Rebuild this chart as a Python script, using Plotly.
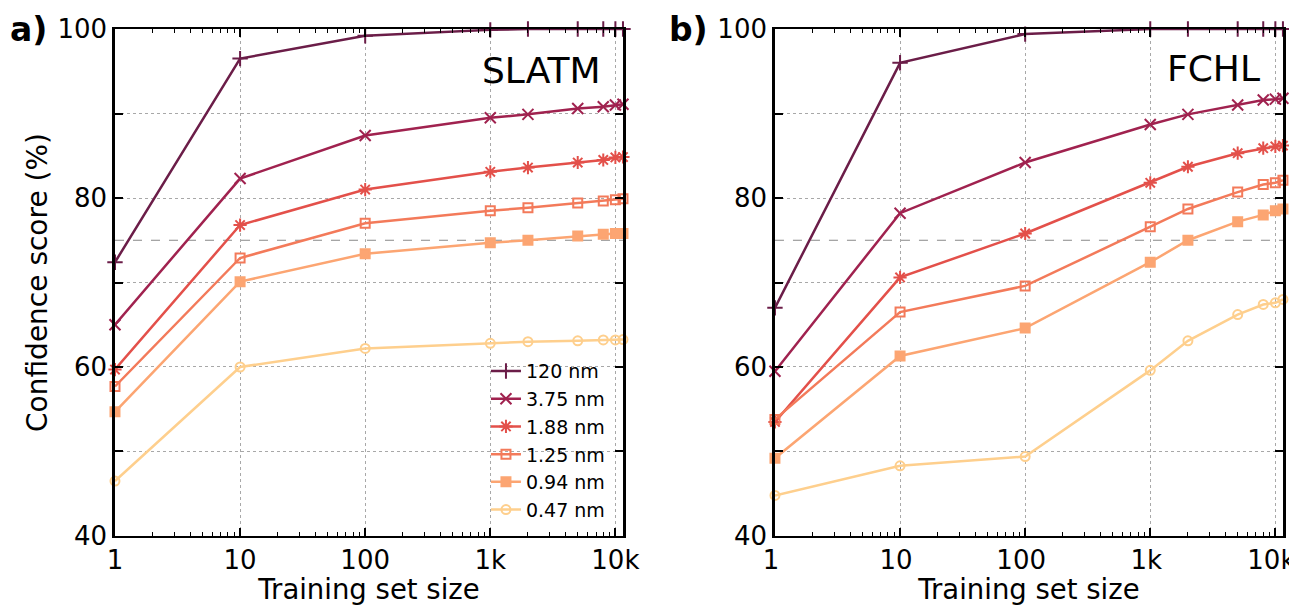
import math
import plotly.graph_objects as go

# ---------------- data ----------------
train_size = [1, 10, 100, 1000, 2000, 5000, 8000, 10000, 11500]
series_names = ["120 nm", "3.75 nm", "1.88 nm", "1.25 nm", "0.94 nm", "0.47 nm"]

slatm_120 = [72.4, 96.5, 99.2, 99.9, 100.0, 100.0, 100.0, 100.0, 100.0]
slatm_375 = [65.0, 82.3, 87.4, 89.5, 89.9, 90.6, 90.8, 91.0, 91.1]
slatm_188 = [59.7, 76.8, 81.0, 83.1, 83.6, 84.2, 84.5, 84.8, 84.85]
slatm_125 = [57.7, 72.9, 77.0, 78.5, 78.85, 79.4, 79.65, 79.8, 79.9]
slatm_094 = [54.7, 70.1, 73.4, 74.7, 75.0, 75.5, 75.7, 75.8, 75.8]
slatm_047 = [46.5, 60.0, 62.2, 62.8, 63.0, 63.1, 63.2, 63.2, 63.25]

fchl_120 = [67.0, 96.0, 99.4, 100.0, 100.0, 100.0, 100.0, 100.0, 100.0]
fchl_375 = [59.5, 78.2, 84.2, 88.7, 89.9, 91.0, 91.6, 91.7, 91.8]
fchl_188 = [53.5, 70.6, 75.8, 81.8, 83.7, 85.3, 85.9, 86.1, 86.2]
fchl_125 = [53.8, 66.5, 69.6, 76.6, 78.7, 80.7, 81.6, 81.8, 82.1]
fchl_094 = [49.2, 61.3, 64.6, 72.4, 75.0, 77.2, 78.0, 78.5, 78.7]
fchl_047 = [44.8, 48.3, 49.4, 59.6, 63.1, 66.2, 67.4, 67.6, 68.0]

slatm = [slatm_120, slatm_375, slatm_188, slatm_125, slatm_094, slatm_047]
fchl = [fchl_120, fchl_375, fchl_188, fchl_125, fchl_094, fchl_047]

x_tickvals = [1, 10, 100, 1000, 10000]
x_ticktext = ["1", "10", "100", "1k", "10k"]
y_tickvals = [40, 50, 60, 70, 80, 90, 100]
y_ticktext = ["40", "", "60", "", "80", "", "100"]
threshold = 75

# ---------------- style ----------------
colors = ["#6b1d48", "#a0224f", "#e3504a", "#f37a5a", "#fca572", "#fecf8d"]
symbols = ["cross-thin-open", "x-thin-open", "asterisk-open", "square-open", "square", "circle-open"]
msizes = [11, 11, 11, 9, 9, 9]
FONT = "DejaVu Sans"

# page has an 8 px body margin; figure is sized so it ends at the window edge
W, H = 1289, 597

fig = go.Figure()

for panel, data in enumerate([slatm, fchl]):
    xa = "x" if panel == 0 else "x2"
    ya = "y" if panel == 0 else "y2"
    for i, (name, vals) in enumerate(zip(series_names, data)):
        fig.add_trace(go.Scatter(
            x=train_size, y=vals, name=name, mode="lines+markers",
            xaxis=xa, yaxis=ya, cliponaxis=False,
            showlegend=(panel == 0),
            line=dict(color=colors[i], width=2.5),
            marker=dict(symbol=symbols[i], size=msizes[i], color=colors[i],
                        line=dict(color=colors[i], width=2)),
        ))

minor_vals = [m * 10 ** d for d in range(0, 5) for m in range(2, 10) if m * 10 ** d < train_size[-1]]
xmax_log = math.log10(train_size[-1])

def xaxis_cfg(domain, anchor, shift=0):
    return dict(
        domain=domain, anchor=anchor, type="log", range=[0, xmax_log],
        automargin=False, ticklabeloverflow="allow", ticklabelshift=shift,
        tickmode="array", tickvals=x_tickvals, ticktext=x_ticktext,
        ticks="inside", ticklen=8, tickwidth=1.5, tickcolor="black",
        showline=True, linecolor="black", linewidth=2, mirror="allticks",
        showgrid=True, gridcolor="#a8a8a8", griddash="dot", gridwidth=1,
        zeroline=False,
        tickfont=dict(family=FONT, size=26, color="black"),
        title=dict(text="Training set size", font=dict(family=FONT, size=27.5, color="black"), standoff=2),
        minor=dict(tickmode="array", tickvals=minor_vals, ticks="inside", ticklen=4,
                   tickwidth=1, tickcolor="black", showgrid=False),
    )

def yaxis_cfg(domain, anchor, title):
    d = dict(
        domain=domain, anchor=anchor, range=[40, 100],
        automargin=False, ticklabeloverflow="allow",
        tickmode="array", tickvals=y_tickvals, ticktext=y_ticktext,
        ticks="inside", ticklen=8, tickwidth=1.5, tickcolor="black",
        showline=True, linecolor="black", linewidth=2.5, mirror="allticks",
        showgrid=True, gridcolor="#a8a8a8", griddash="dot", gridwidth=1,
        zeroline=False,
        tickfont=dict(family=FONT, size=26, color="black"),
    )
    if title:
        d["title"] = dict(text=title, font=dict(family=FONT, size=28, color="black"), standoff=2)
    return d

ydom = [0.1156, 0.9648]
fig.update_layout(
    width=W, height=H,
    margin=dict(l=0, r=0, t=0, b=0),
    paper_bgcolor="white", plot_bgcolor="white",
    font=dict(family=FONT, color="black"),
    xaxis=xaxis_cfg([0.0830, 0.4771], "y"),
    yaxis=yaxis_cfg(ydom, "x", "Confidence score (%)"),
    xaxis2=xaxis_cfg([0.5950, 0.9891], "y2", shift=-4),
    yaxis2=yaxis_cfg(ydom, "x2", None),
    legend=dict(x=0.467, y=0.127, xanchor="right", yanchor="bottom",
                bgcolor="rgba(0,0,0,0)", font=dict(family=FONT, size=19, color="black"),
                itemwidth=30, tracegroupgap=0),
)

for xr in ["x domain", "x2 domain"]:
    yr = "y" if xr == "x domain" else "y2"
    fig.add_shape(type="line", xref=xr, yref=yr, x0=0, x1=1, y0=threshold, y1=threshold,
                  line=dict(color="#888888", width=1, dash="dash"), layer="below")

fig.add_annotation(text="<b>a)</b>", xref="paper", yref="paper", x=0.0, y=1.0,
                   xanchor="left", yanchor="top", showarrow=False,
                   font=dict(family=FONT, size=33, color="black"))
fig.add_annotation(text="<b>b)</b>", xref="paper", yref="paper", x=0.5113, y=1.0,
                   xanchor="left", yanchor="top", showarrow=False,
                   font=dict(family=FONT, size=33, color="black"))
fig.add_annotation(text="SLATM", xref="x domain", yref="y domain", x=0.961, y=0.919,
                   xanchor="right", yanchor="middle", showarrow=False,
                   font=dict(family=FONT, size=36, color="black"))
fig.add_annotation(text="FCHL", xref="x2 domain", yref="y2 domain", x=0.959, y=0.923,
                   xanchor="right", yanchor="middle", showarrow=False,
                   font=dict(family=FONT, size=36, color="black"))

fig.write_html("out.html")
